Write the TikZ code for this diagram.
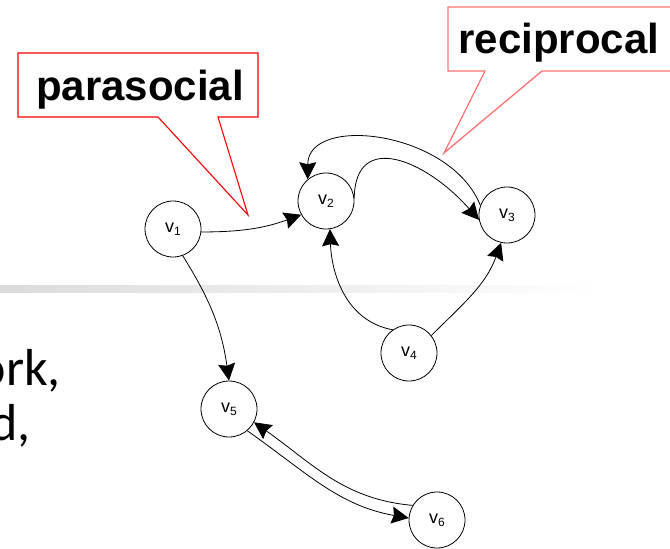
\documentclass[tikz,border=0pt]{standalone}
\usepackage{fontspec}
\setmainfont{Liberation Sans}
\newfontfamily\bodyfont{Carlito}
\usetikzlibrary{arrows.meta}

\definecolor{calloutred}{RGB}{255,0,0}
\definecolor{calloutpink}{RGB}{255,115,115}

\tikzset{
  vertex/.style={circle, draw=black, line width=0.8pt, fill=white,
    minimum size=56pt, inner sep=0pt, font=\fontsize{18}{18}\selectfont},
  link/.style={draw=black, line width=0.8pt,
    -{Stealth[length=17pt, width=17pt, inset=2pt]}},
  callout/.style={line width=1.1pt, fill=white, line join=miter},
  calloutlabel/.style={anchor=base, inner sep=0pt,
    font=\fontsize{42}{42}\selectfont\bfseries},
  bodytext/.style={anchor=base east, inner sep=0pt,
    font=\bodyfont\fontsize{52}{52}\selectfont},
}

\newcommand{\vlabel}[1]{v\raisebox{-3pt}{\fontsize{12}{12}\selectfont #1}}

\begin{document}
\begin{tikzpicture}[x=1pt, y=-1pt]
  \useasboundingbox (0,0) rectangle (670,549);
  \clip (0,0) rectangle (670,549);

  % slide rule and body text behind the graph
  \shade[left color=black!14, right color=white] (0,285) rectangle (600,292);
  \node[bodytext] (line1) at (61,385) {ork,};
  \node[bodytext] (line2) at (31,440) {d,};

  % callouts
  \draw[callout, draw=calloutred]
    (18,53) -- (258,53) -- (258,117) -- (218,117) -- (248,215)
    -- (158,117) -- (18,117) -- cycle;
  \node[calloutlabel] (para) at (140,100) {parasocial};

  \draw[callout, draw=calloutpink, line width=1.3pt]
    (448,7) -- (700,7) -- (700,71) -- (542,71) -- (444,153)
    -- (485,71) -- (448,71) -- cycle;
  \node[calloutlabel] (reci) at (559,53) {reciprocal};

  % vertices
  \node[vertex] (v1) at (173,229) {\vlabel{1}};
  \node[vertex] (v2) at (326,201) {\vlabel{2}};
  \node[vertex] (v3) at (507,215) {\vlabel{3}};
  \node[vertex] (v4) at (409,353) {\vlabel{4}};
  \node[vertex] (v5) at (229,409) {\vlabel{5}};
  \node[vertex] (v6) at (437,520) {\vlabel{6}};

  % arcs
  \draw[link] (v1.-6) to[out=0, in=200] (v2.209);
  \draw[link] (v1.-70) to[out=-58, in=98] (v5.90);
  \draw[link] (v2.6) .. controls +(1,-68) and +(-53,-60) .. (v3.190);
  \draw[link] (v3.160) .. controls +(-30,-75) and +(0,-65) .. (v2.130);
  \draw[link] (v4.125) to[out=170, in=-88] (v2.-82);
  \draw[link] (v4.38) to[out=45, in=-110] (v3.-102);
  \draw[link] (v5.-50) to[out=-35, in=170] (v6.176);
  \draw[link] (v6.149) to[out=175, in=-35] (v5.-28);
\end{tikzpicture}
\end{document}
